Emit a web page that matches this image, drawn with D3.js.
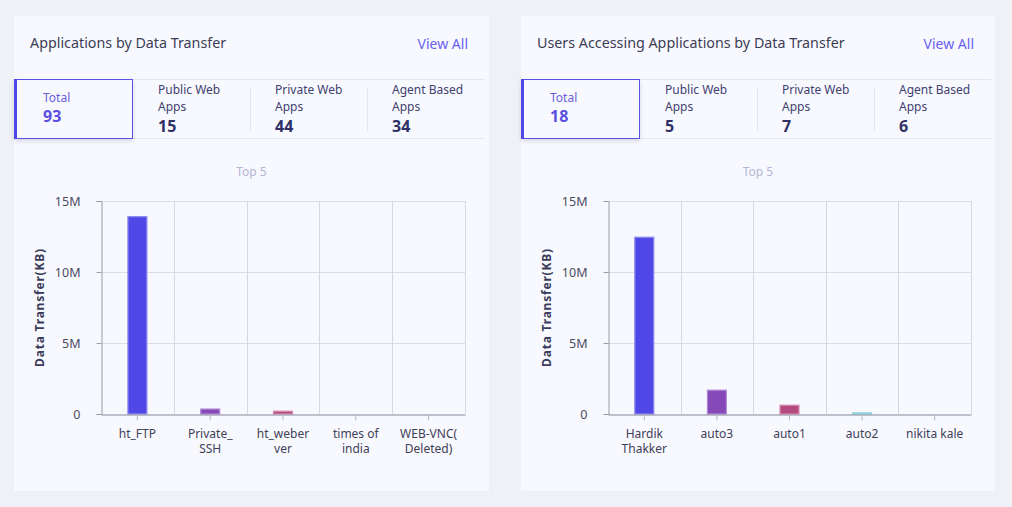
<!DOCTYPE html>
<html><head><meta charset="utf-8">
<script src="https://cdn.jsdelivr.net/npm/d3@7"></script>
<style>
html,body{margin:0;padding:0;background:#f0f1f6;}
svg{display:block;font-family:"Noto Sans","Open Sans",sans-serif;}
</style></head>
<body>
<svg id="c" width="1012" height="507"></svg>
<script>
// ---- data ----
const appTitle = "Applications by Data Transfer";
const appTabLabels = [["Total"], ["Public Web", "Apps"], ["Private Web", "Apps"], ["Agent Based", "Apps"]];
const appTabValues = [93, 15, 44, 34];
const appCategories = [["ht_FTP"], ["Private_", "SSH"], ["ht_weber", "ver"], ["times of", "india"], ["WEB-VNC(", "Deleted)"]];
const appValues = [13900000, 350000, 200000, 0, 0];

const userTitle = "Users Accessing Applications by Data Transfer";
const userTabLabels = [["Total"], ["Public Web", "Apps"], ["Private Web", "Apps"], ["Agent Based", "Apps"]];
const userTabValues = [18, 5, 7, 6];
const userCategories = [["Hardik", "Thakker"], ["auto3"], ["auto1"], ["auto2"], ["nikita kale"]];
const userValues = [12450000, 1680000, 620000, 80000, 0];

const yTicks = [0, 5000000, 10000000, 15000000];
const yTickLabels = ["0", "5M", "10M", "15M"];
const barColors = ["#5048e6", "#854ab8", "#b44a80", "#74c8d4", "#9bd3a8"];
const barStrokes = ["#8f8cf2", "#b38ad6", "#d88eb2", "#8fd3dd", "#c4e6cc"];

const svg = d3.select("#c");

function multiline(sel, lines, x, y0, dy) {
  lines.forEach((l, j) => sel.append("tspan").attr("x", x).attr("y", y0 + j * dy).text(l));
}

function panel(ox, w, title, tabLabels, tabValues, cats, vals) {
  const g = svg.append("g").attr("transform", `translate(${ox},0)`);
  g.append("rect").attr("x", 0).attr("y", 16).attr("width", w).attr("height", 475).attr("fill", "#f8f9fe");
  g.append("text").attr("x", 16).attr("y", 48).attr("font-size", 14.3).attr("fill", "#3c3d55").text(title);
  g.append("text").attr("x", w - 21).attr("y", 49).attr("text-anchor", "end").attr("font-size", 14).attr("fill", "#6a5ff0").text("View All");

  // tabs
  g.append("line").attr("x1", 0).attr("x2", w - 4).attr("y1", 79.5).attr("y2", 79.5).attr("stroke", "#e4e6f2");
  g.append("line").attr("x1", 0).attr("x2", w - 4).attr("y1", 138.5).attr("y2", 138.5).attr("stroke", "#e4e6f2");
  [236, 353].forEach(x => g.append("line").attr("x1", x + 0.5).attr("x2", x + 0.5).attr("y1", 88).attr("y2", 131).attr("stroke", "#e4e6f2"));
  g.append("rect").attr("x", 0.5).attr("y", 79.5).attr("width", 118).attr("height", 59)
    .attr("fill", "#f8f9fe").attr("stroke", "#5a52e6").attr("stroke-width", 1)
    .style("filter", "drop-shadow(0px 2px 2px rgba(60,60,100,0.18))");
  g.append("rect").attr("x", 0).attr("y", 79).attr("width", 3).attr("height", 60).attr("fill", "#5048e6");
  const tabX = [29, 144, 261, 378];
  tabLabels.forEach((lines, i) => {
    if (i === 0) {
      g.append("text").attr("x", tabX[i]).attr("y", 102).attr("font-size", 12).attr("fill", "#6a5fd8").text(lines[0]);
      g.append("text").attr("x", tabX[i]).attr("y", 122).attr("font-size", 16).attr("font-weight", "bold").attr("fill", "#5a4fe0").text(tabValues[i]);
    } else {
      const t = g.append("text").attr("font-size", 12).attr("fill", "#3f4170");
      multiline(t, lines, tabX[i], 94, 17);
      g.append("text").attr("x", tabX[i]).attr("y", 132).attr("font-size", 16).attr("font-weight", "bold").attr("fill", "#2f3166").text(tabValues[i]);
    }
  });

  // chart
  const left = 87, right = w - 24, top = 201, bottom = 414;
  const x = d3.scaleBand().domain(d3.range(cats.length)).range([left, right]).paddingInner(0).paddingOuter(0);
  const y = d3.scaleLinear().domain([0, 15000000]).range([bottom, top]);

  g.append("text").attr("x", w / 2).attr("y", 176).attr("text-anchor", "middle").attr("font-size", 12).attr("fill", "#b3b6d6").text("Top 5");

  // grid
  g.append("g").selectAll("line").data(yTicks.slice(1)).join("line")
    .attr("x1", left).attr("x2", right).attr("y1", d => Math.round(y(d)) + 0.5).attr("y2", d => Math.round(y(d)) + 0.5)
    .attr("stroke", "#dcdde8");
  g.append("g").selectAll("line").data(d3.range(1, cats.length + 1)).join("line")
    .attr("x1", i => Math.round(left + i * x.bandwidth()) + 0.5).attr("x2", i => Math.round(left + i * x.bandwidth()) + 0.5)
    .attr("y1", top).attr("y2", bottom).attr("stroke", "#d6d7e2");

  // y axis
  const ya = d3.axisLeft(y).tickValues(yTicks).tickFormat((d, i) => yTickLabels[i]).tickSize(5).tickPadding(16);
  const yg = g.append("g").attr("transform", `translate(${left + 0.5},0)`).call(ya);
  yg.select(".domain").attr("stroke", "#9a9cab");
  yg.selectAll(".tick line").attr("stroke", "#9a9cab");
  yg.selectAll(".tick text").attr("font-size", 12.5).attr("fill", "#4a4b60").attr("font-family", "Noto Sans");

  // bars
  g.append("g").selectAll("rect").data(vals.map((v, i) => ({v, i})).filter(d => d.v > 0)).join("rect")
    .attr("x", d => x(d.i) + x.bandwidth() / 2 - 9.5)
    .attr("y", d => y(d.v))
    .attr("width", 19)
    .attr("height", d => bottom - y(d.v))
    .attr("fill", d => barColors[d.i])
    .attr("stroke", d => barStrokes[d.i]).attr("stroke-width", 1.2);

  // x axis
  const xa = d3.axisBottom(x).tickFormat(() => "").tickSize(6).tickSizeOuter(0);
  const xg = g.append("g").attr("transform", `translate(0,${bottom + 0.5})`).call(xa);
  xg.select(".domain").attr("stroke", "#85879a").attr("stroke-width", 1.2);
  xg.selectAll(".tick line").attr("stroke", "#b5b6c4");
  cats.forEach((lines, i) => {
    const t = g.append("text").attr("text-anchor", "middle").attr("font-size", 12).attr("fill", "#3f4058");
    multiline(t, lines, x(i) + x.bandwidth() / 2, 437.5, 15);
  });

  // y label
  g.append("text").attr("transform", `translate(${30},${(top + bottom) / 2}) rotate(-90)`)
    .attr("text-anchor", "middle").attr("font-size", 12).attr("font-weight", "bold").attr("fill", "#3a3b5a")
    .attr("letter-spacing", 0.8).text("Data Transfer(KB)");
}

panel(14, 475, appTitle, appTabLabels, appTabValues, appCategories, appValues);
panel(521, 474, userTitle, userTabLabels, userTabValues, userCategories, userValues);
</script>
</body></html>
